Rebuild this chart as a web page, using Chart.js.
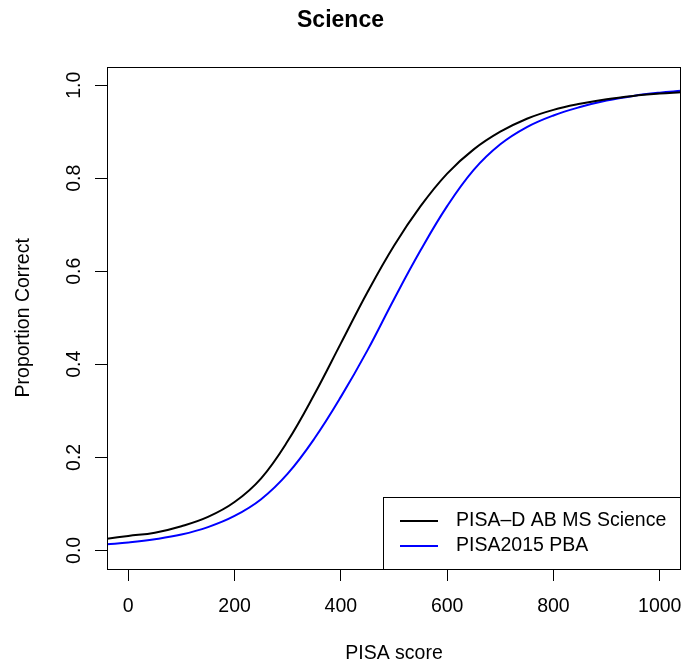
<!DOCTYPE html>
<html>
<head>
<meta charset="utf-8">
<script src="https://cdn.jsdelivr.net/npm/chart.js@4/dist/chart.umd.min.js"></script>
<style>
	body { margin: 0; background: #fff; }
	#wrap { width: 683px; height: 665px; }
</style>
</head>
<body>
<div id="wrap"><canvas id="line_chart" width="683" height="665"></canvas></div>
<script>
var chartTitle = "Science";
var xTitle = "PISA score";
var yTitle = "Proportion Correct";
var seriesNames = ["PISA–D AB MS Science", "PISA2015 PBA"];
var seriesColors = ["#000000", "#0000ff"];

var scores = [-40, 0, 50, 100, 150, 200, 250, 300, 350, 400, 450, 500, 550, 600, 650, 700, 750, 800, 850, 900, 950, 1000, 1040];
var pisaD = [0.025, 0.031, 0.038, 0.052, 0.072, 0.104, 0.155, 0.235, 0.335, 0.445, 0.555, 0.655, 0.74, 0.81, 0.862, 0.90, 0.928, 0.947, 0.960, 0.970, 0.977, 0.982, 0.985];
var pisa2015 = [0.013, 0.017, 0.024, 0.034, 0.050, 0.074, 0.110, 0.165, 0.24, 0.33, 0.43, 0.54, 0.645, 0.74, 0.818, 0.873, 0.910, 0.935, 0.953, 0.967, 0.977, 0.984, 0.988];

var xTicks = [0, 200, 400, 600, 800, 1000];
var yTicks = [0, 0.2, 0.4, 0.6, 0.8, 1.0];

var FONT = "'Liberation Sans', Arial, Helvetica, sans-serif";

function toPoints(xs, ys) {
	var pts = [];
	for (var i = 0; i < xs.length; i++) {
		pts.push({ x: xs[i], y: ys[i] });
	}
	return pts;
}

// keep chart.js from adding room for the outer tick labels
function noPad(s) {
	s.paddingLeft = 0;
	s.paddingRight = 0;
	s.paddingTop = 0;
	s.paddingBottom = 0;
}

// R style box round the plot area + legend in the bottom right corner
var boxPlugin = {
	id: 'rbox',
	afterDraw: function (chart) {
		var ctx = chart.ctx;
		var a = chart.chartArea;
		ctx.save();
		ctx.strokeStyle = '#000';
		ctx.lineWidth = 1;
		ctx.strokeRect(Math.round(a.left) + 0.5, Math.round(a.top) + 0.5, Math.round(a.right - a.left) - 1, Math.round(a.bottom - a.top));

		var bw = 298, bh = 72;
		var bx = Math.round(a.right) - bw, by = Math.round(a.bottom) - bh;
		ctx.fillStyle = '#fff';
		ctx.fillRect(bx, by, bw, bh);
		ctx.strokeRect(bx + 0.5, by + 0.5, bw - 1, bh);
		ctx.font = "19.5px " + FONT;
		ctx.textBaseline = 'middle';
		ctx.textAlign = 'left';
		chart.data.datasets.forEach(function (ds, i) {
			var y = by + 24 + i * 25;
			ctx.strokeStyle = ds.borderColor;
			ctx.lineWidth = 2;
			ctx.beginPath();
			ctx.moveTo(bx + 17, y);
			ctx.lineTo(bx + 55, y);
			ctx.stroke();
			ctx.fillStyle = '#000';
			ctx.fillText(ds.label, bx + 73, y);
		});
		ctx.restore();
	}
};

function getChartJs() {
	var config = {
		type: 'line',
		data: {
			datasets: [{
				label: seriesNames[0],
				data: toPoints(scores, pisaD),
				borderColor: seriesColors[0],
				borderWidth: 2,
				pointRadius: 0,
				tension: 0.4,
				fill: false
			}, {
				label: seriesNames[1],
				data: toPoints(scores, pisa2015),
				borderColor: seriesColors[1],
				borderWidth: 2,
				pointRadius: 0,
				tension: 0.4,
				fill: false
			}]
		},
		options: {
			responsive: false,
			animation: false,
			layout: { padding: { left: 0, right: 2, top: 0, bottom: 0 } },
			plugins: {
				legend: { display: false },
				tooltip: { enabled: false },
				title: {
					display: true,
					text: chartTitle,
					color: '#000',
					font: { family: FONT, size: 23, weight: 'bold', lineHeight: 1.2 },
					padding: { top: 7, bottom: 32 }
				}
			},
			scales: {
				x: {
					type: 'linear',
					min: -40,
					max: 1040,
					afterBuildTicks: function (s) { s.ticks = xTicks.map(function (v) { return { value: v }; }); },
					afterFit: function (s) { s.height = 96; noPad(s); },
					grid: { drawOnChartArea: false, drawTicks: true, tickLength: 12, color: '#000' },
					border: { display: false },
					ticks: {
						color: '#000', padding: 14, maxRotation: 0, autoSkip: false,
						font: { family: FONT, size: 19.5 },
						callback: function (v) { return String(v); }
					},
					title: { display: true, text: xTitle, color: '#000', font: { family: FONT, size: 19.5 }, padding: { top: 0, bottom: 0 } }
				},
				y: {
					type: 'linear',
					min: -0.04,
					max: 1.04,
					afterBuildTicks: function (s) { s.ticks = yTicks.map(function (v) { return { value: v }; }); },
					afterFit: function (s) { s.width = 107; noPad(s); },
					grid: { drawOnChartArea: false, drawTicks: true, tickLength: 12, color: '#000' },
					border: { display: false },
					ticks: {
						color: '#000', padding: 7, minRotation: 90, maxRotation: 90, crossAlign: 'center', autoSkip: false,
						font: { family: FONT, size: 19.5 },
						callback: function (v) { return v.toFixed(1); }
					},
					title: { display: true, text: yTitle, color: '#000', font: { family: FONT, size: 19.5 }, padding: { top: 11.5, bottom: 0 } }
				}
			}
		},
		plugins: [boxPlugin]
	};
	return config;
}

new Chart(document.getElementById("line_chart").getContext("2d"), getChartJs());
</script>
</body>
</html>
